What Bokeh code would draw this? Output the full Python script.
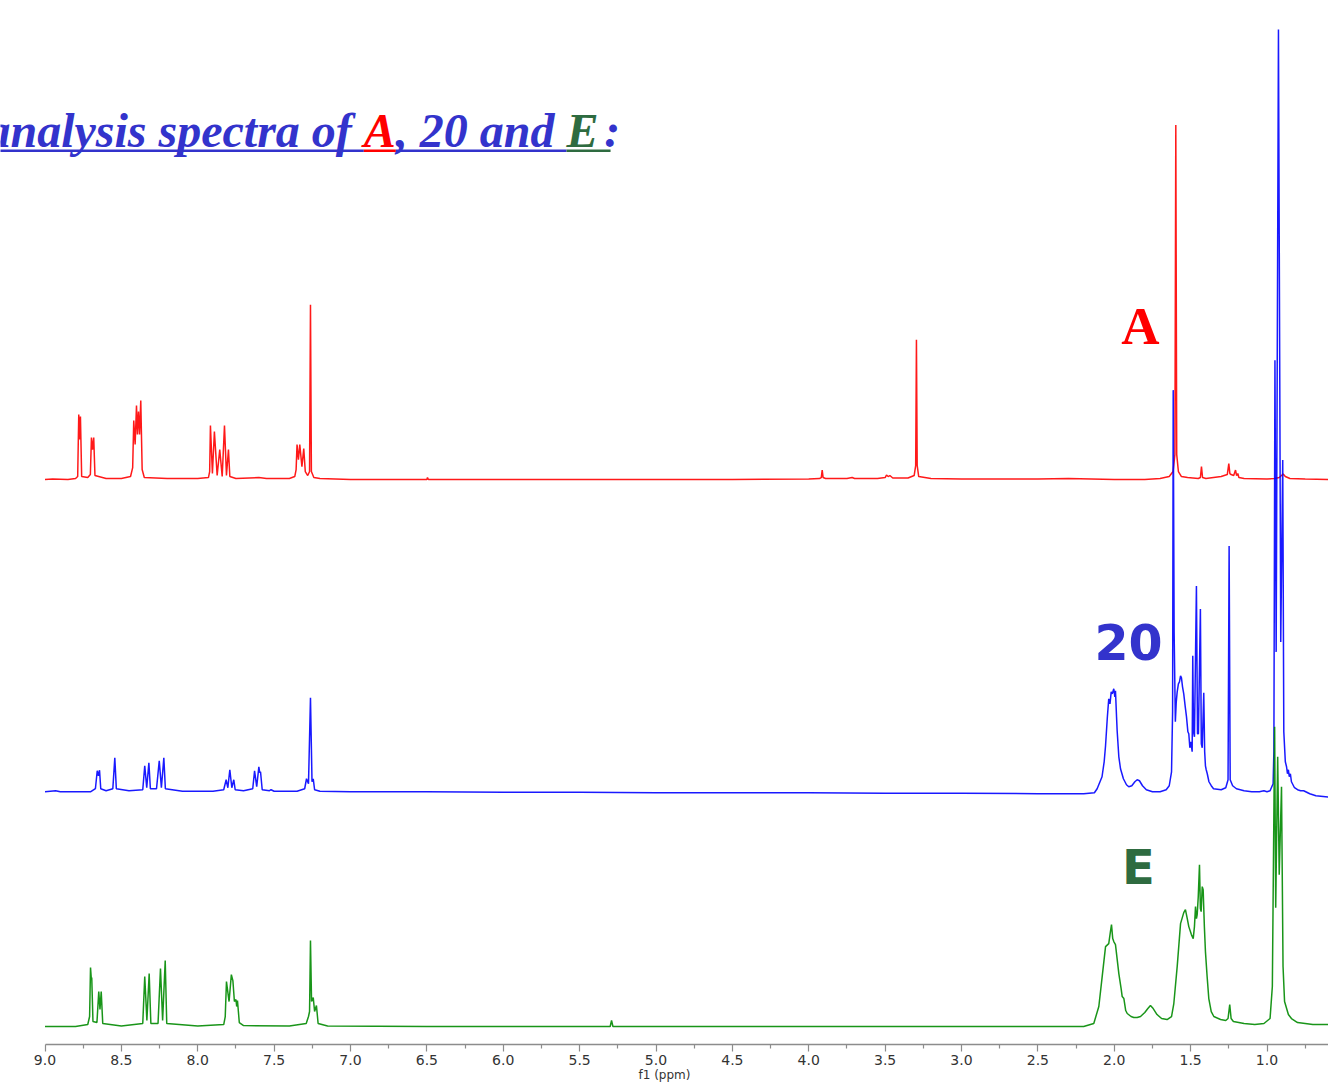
from bokeh.plotting import figure
from bokeh.models import Range1d, FixedTicker, PrintfTickFormatter
from bokeh.core.properties import value
from bokeh.embed import file_html
from bokeh.resources import INLINE

# ---------------- data ----------------
TICKS = [9.0, 8.5, 8.0, 7.5, 7.0, 6.5, 6.0, 5.5, 5.0, 4.5, 4.0, 3.5, 3.0, 2.5, 2.0, 1.5, 1.0]
MINOR_TICKS = [8.75, 8.25, 7.75, 7.25, 6.75, 6.25, 5.75, 5.25, 4.75, 4.25, 3.75, 3.25,
               2.75, 2.25, 1.75, 1.25, 0.75]
AXIS_LABEL = "f1 (ppm)"

TITLE_PARTS = ["analysis spectra of ", "A", ", 20 and ", "E", " :"]
TITLE_COLORS = ["#3333cc", "#ff0000", "#3333cc", "#2e6b40", "#3333cc"]
TRACE_LABELS = ["A", "20", "E"]

# spectrum A (red): (ppm, intensity above its baseline)
SPEC_A = [
    (9.0, 0), (8.95, 0.5), (8.85, 0), (8.80, 1), (8.786, 3), (8.779, 65), (8.773, 40),
    (8.768, 63), (8.760, 3), (8.72, 2), (8.703, 5), (8.696, 42), (8.689, 30), (8.681, 42),
    (8.673, 4), (8.60, 1), (8.50, 1), (8.44, 3), (8.426, 12), (8.419, 59), (8.410, 35),
    (8.401, 74), (8.395, 45), (8.388, 68), (8.381, 45), (8.373, 79), (8.364, 10), (8.35, 2),
    (8.20, 1), (8.00, 1), (7.93, 2), (7.922, 8), (7.917, 54), (7.904, 6), (7.891, 48),
    (7.873, 4), (7.856, 30), (7.840, 3), (7.825, 54), (7.812, 4), (7.799, 30), (7.790, 3),
    (7.75, 1), (7.60, 2), (7.55, 1), (7.40, 1), (7.365, 3), (7.356, 10), (7.350, 35),
    (7.341, 20), (7.332, 35), (7.318, 13), (7.306, 31), (7.296, 8), (7.280, 4), (7.268, 8),
    (7.262, 175), (7.256, 8), (7.24, 2), (7.20, 1), (7.00, 0), (6.80, 0), (6.50, 0),
    (6.496, 2), (6.49, 0), (6.00, 0), (5.50, 0), (5.00, 0), (4.50, 0), (4.00, 0.5),
    (3.93, 1), (3.918, 2), (3.912, 9.5), (3.906, 2), (3.89, 1), (3.75, 1), (3.716, 2),
    (3.70, 1), (3.55, 1), (3.50, 2), (3.491, 4.5), (3.480, 3), (3.469, 4), (3.45, 1.5),
    (3.35, 1.5), (3.31, 4), (3.300, 14), (3.295, 140), (3.290, 14), (3.28, 3), (3.20, 1),
    (3.00, 0.5), (2.50, 0.5), (2.30, 1), (2.00, 0), (1.80, 0), (1.70, 1), (1.64, 3),
    (1.615, 8), (1.603, 25), (1.597, 355), (1.591, 25), (1.58, 8), (1.56, 3), (1.52, 2),
    (1.45, 1), (1.436, 2), (1.429, 13), (1.422, 2), (1.40, 1), (1.30, 3), (1.26, 5),
    (1.250, 16), (1.243, 6), (1.235, 5), (1.218, 4), (1.206, 9.5), (1.199, 4), (1.191, 6),
    (1.184, 2), (1.15, 1), (1.00, 0.5), (0.95, 1), (0.92, 2), (0.894, 5.5), (0.88, 3),
    (0.85, 1), (0.75, 0.5), (0.55, 0),
]

# spectrum 20 (blue)
SPEC_20 = [
    (9.0, 0), (8.93, 1), (8.90, 0), (8.70, 0), (8.67, 3), (8.658, 21), (8.650, 16),
    (8.643, 21.5), (8.635, 3), (8.60, 1), (8.556, 3), (8.543, 34), (8.533, 3), (8.45, 1),
    (8.36, 2), (8.347, 26), (8.334, 4), (8.320, 29), (8.310, 3), (8.27, 3), (8.252, 31),
    (8.238, 4), (8.222, 34), (8.212, 3), (8.10, 0.5), (7.90, 0.5), (7.83, 2), (7.814, 12),
    (7.803, 4), (7.790, 22), (7.777, 4), (7.764, 12), (7.755, 2), (7.70, 1), (7.64, 3),
    (7.628, 21), (7.614, 5), (7.600, 25), (7.594, 19), (7.589, 20), (7.578, 2), (7.53, 1),
    (7.52, 2), (7.50, 0.5), (7.35, 0.5), (7.30, 3), (7.288, 13), (7.275, 8), (7.262, 94),
    (7.252, 10), (7.244, 13), (7.235, 2), (7.20, 0.5), (7.00, 0), (6.50, 0), (6.00, -0.5),
    (5.50, -0.5), (5.00, -1), (4.50, -1), (4.00, -1), (3.50, -1.5), (3.00, -1.5),
    (2.50, -2), (2.20, -2), (2.13, -1), (2.112, 3), (2.08, 15), (2.066, 30), (2.057, 46),
    (2.045, 75), (2.036, 93), (2.028, 88), (2.020, 100), (2.013, 98), (2.003, 103),
    (1.996, 95), (1.992, 101), (1.985, 75), (1.981, 61), (1.970, 35), (1.959, 23),
    (1.94, 13), (1.92, 7), (1.905, 5), (1.885, 6), (1.865, 10), (1.850, 12), (1.835, 11),
    (1.815, 6), (1.79, 2), (1.75, 0), (1.70, 0), (1.66, 2), (1.64, 6), (1.625, 20),
    (1.618, 80), (1.614, 402), (1.608, 160), (1.600, 70), (1.594, 90), (1.588, 100),
    (1.580, 108), (1.573, 110), (1.566, 116), (1.560, 114), (1.553, 105), (1.545, 98),
    (1.536, 86), (1.527, 75), (1.518, 60), (1.512, 58), (1.505, 44), (1.498, 50),
    (1.490, 40), (1.486, 136), (1.481, 60), (1.475, 55), (1.462, 206), (1.455, 58),
    (1.449, 58), (1.436, 183), (1.430, 48), (1.424, 44), (1.414, 99), (1.408, 40),
    (1.403, 26), (1.398, 22), (1.391, 18), (1.38, 10), (1.365, 6), (1.35, 3), (1.30, 2),
    (1.27, 4), (1.255, 12), (1.248, 246), (1.241, 12), (1.225, 6), (1.20, 3), (1.15, 1),
    (1.10, 0), (1.05, 0), (1.02, 1), (1.00, 0), (0.98, 1), (0.96, 8), (0.955, 40),
    (0.948, 432), (0.940, 140), (0.925, 763), (0.910, 150), (0.897, 332), (0.890, 60),
    (0.880, 30), (0.872, 25), (0.866, 18), (0.860, 22), (0.854, 15), (0.847, 18),
    (0.840, 10), (0.82, 4), (0.80, 2), (0.78, 1), (0.76, 1), (0.72, -2), (0.68, -4),
    (0.55, -6),
]

# spectrum E (green)
SPEC_E = [
    (9.0, 0), (8.80, 0), (8.72, 2), (8.708, 10), (8.702, 59), (8.697, 48), (8.694, 49),
    (8.686, 5), (8.660, 4), (8.648, 35), (8.640, 17), (8.632, 35), (8.622, 3), (8.50, 0.5),
    (8.36, 3), (8.347, 50), (8.333, 6), (8.318, 53), (8.307, 3), (8.26, 3), (8.244, 58),
    (8.230, 6), (8.213, 66), (8.203, 3), (8.00, 0.5), (7.83, 2), (7.820, 10), (7.812, 45),
    (7.795, 25), (7.780, 52), (7.770, 46), (7.760, 25), (7.750, 27), (7.745, 20),
    (7.740, 26), (7.728, 4), (7.70, 1), (7.40, 0.5), (7.29, 3), (7.275, 10), (7.268, 15),
    (7.262, 86), (7.255, 25), (7.244, 29), (7.235, 15), (7.223, 21), (7.212, 3),
    (7.15, 0.5), (6.50, 0), (5.30, 0), (5.291, 6), (5.282, 0), (4.00, 0), (3.00, 0),
    (2.50, 0), (2.20, 0), (2.134, 3), (2.101, 20), (2.079, 50), (2.057, 80), (2.036, 83),
    (2.025, 95), (2.018, 102), (2.010, 88), (2.003, 85), (1.992, 82), (1.970, 53),
    (1.955, 38), (1.948, 30), (1.937, 28), (1.925, 16), (1.915, 13), (1.89, 10),
    (1.872, 9), (1.85, 9), (1.828, 10), (1.80, 14), (1.78, 18), (1.763, 21), (1.745, 18),
    (1.72, 12), (1.69, 8), (1.654, 7), (1.635, 9), (1.625, 10), (1.610, 23), (1.588, 60),
    (1.566, 103), (1.545, 114), (1.534, 117), (1.522, 108), (1.512, 100), (1.495, 92),
    (1.483, 88), (1.475, 100), (1.468, 120), (1.462, 108), (1.457, 112), (1.450, 130),
    (1.442, 162), (1.436, 118), (1.431, 115), (1.424, 140), (1.418, 137), (1.410, 100),
    (1.403, 75), (1.392, 50), (1.381, 28), (1.365, 15), (1.348, 10), (1.304, 7),
    (1.27, 6), (1.255, 8), (1.244, 22), (1.235, 8), (1.22, 5), (1.15, 3), (1.08, 2),
    (1.02, 3), (0.98, 8), (0.965, 40), (0.950, 300), (0.943, 119), (0.930, 270),
    (0.920, 152), (0.905, 240), (0.895, 60), (0.885, 25), (0.86, 12), (0.84, 8),
    (0.80, 4), (0.75, 3), (0.70, 2), (0.55, 2),
]

# ---------------- layout helpers ----------------
W, H = 1328, 1084
PX_PER_PPM = 152.75
X_9PPM = 44.5            # pixel x of the 9.0 ppm tick
AXIS_Y = 1045            # pixel y of the axis line
BOTTOM = H - AXIS_Y
FRAME_H = AXIS_Y
BASE_SHIFT = 0.37        # svg alphabetic-baseline correction (em)


def px2ppm(px):
    return 9.0 - (px - X_9PPM) / PX_PER_PPM


def py2y(py):
    return AXIS_Y - py


def base_y(py, fs):
    return py2y(py - BASE_SHIFT * fs)


BASE_A = py2y(479.5)
BASE_20 = py2y(792)
BASE_E = py2y(1027)

p = figure(width=W, height=H, output_backend="svg", toolbar_location=None,
           x_range=Range1d(px2ppm(0), px2ppm(W)),
           y_range=Range1d(0, FRAME_H),
           y_axis_location=None, tools="")
p.min_border_left = 0
p.min_border_right = 0
p.min_border_top = 0
p.min_border_bottom = BOTTOM
p.outline_line_color = None
p.xgrid.visible = False
p.ygrid.visible = False
p.background_fill_color = "white"
p.border_fill_color = "white"

ax = p.xaxis[0]
ax.ticker = FixedTicker(ticks=TICKS, minor_ticks=MINOR_TICKS)
ax.formatter = PrintfTickFormatter(format="%.1f")
ax.bounds = (0.5, 9.0)
ax.axis_line_color = "#8c8c8c"
ax.axis_line_width = 1.5
ax.major_tick_line_color = "#8c8c8c"
ax.major_tick_line_width = 1.2
ax.minor_tick_line_color = "#8c8c8c"
ax.minor_tick_line_width = 1.2
ax.major_tick_in = 0
ax.major_tick_out = 7
ax.minor_tick_in = 0
ax.minor_tick_out = 4
ax.major_label_standoff = 3
ax.major_label_text_font = "DejaVu Sans"
ax.major_label_text_font_size = "14px"
ax.major_label_text_color = "#333333"
ax.axis_label = AXIS_LABEL
ax.axis_label_standoff = 0
ax.axis_label_text_font = "DejaVu Sans"
ax.axis_label_text_font_size = "12px"
ax.axis_label_text_font_style = "normal"
ax.axis_label_text_color = "#333333"

# spectra
for spec, base, color in ((SPEC_A, BASE_A, "#ff0000"),
                          (SPEC_20, BASE_20, "#0000ff"),
                          (SPEC_E, BASE_E, "#008a00")):
    xs = [a for a, b in spec]
    ys = [b + base for a, b in spec]
    p.line(xs, ys, line_color=color, line_width=1.5, line_alpha=0.9)

# trace labels
p.text(x=[px2ppm(1140)], y=[base_y(345, 53)], text=[TRACE_LABELS[0]],
       text_font=value("Liberation Serif"), text_font_style="bold",
       text_font_size="53px", text_color="#ff0000",
       text_align="center", text_baseline="alphabetic")
p.text(x=[px2ppm(1128)], y=[base_y(660, 49)], text=[TRACE_LABELS[1]],
       text_font=value("DejaVu Sans"), text_font_style="bold",
       text_font_size="49px", text_color="#3333cc",
       text_align="center", text_baseline="alphabetic")
p.text(x=[px2ppm(1138)], y=[base_y(885, 48)], text=[TRACE_LABELS[2]],
       text_font=value("DejaVu Sans"), text_font_style="bold",
       text_font_size="48px", text_color="#2e6b40",
       text_align="center", text_baseline="alphabetic")

# title with coloured underline (Times bold italic advance widths, em units)
EM = {"a": 0.5, "n": 0.556, "l": 0.278, "y": 0.444, "s": 0.389, "i": 0.278,
      "p": 0.5, "e": 0.444, "c": 0.444, "t": 0.278, "r": 0.389, "o": 0.5,
      "f": 0.333, " ": 0.25, "A": 0.667, ",": 0.25, "2": 0.5, "0": 0.5,
      "d": 0.5, "E": 0.667, ":": 0.333}
FS = 48
x_cur = -14.0
TITLE_BASE = 148
UL_Y = 150.5
for i, (part, col) in enumerate(zip(TITLE_PARTS, TITLE_COLORS)):
    w = sum(EM.get(c, 0.5) for c in part) * FS
    x_draw = x_cur
    if i == len(TITLE_PARTS) - 1:
        x_draw = x_cur + 0.12 * FS   # the space before the colon is wider in the source
    p.text(x=[px2ppm(x_draw)], y=[base_y(TITLE_BASE, FS)], text=[part],
           text_font=value("Liberation Serif"), text_font_style="bold italic",
           text_font_size=f"{FS}px", text_color=col,
           text_align="left", text_baseline="alphabetic")
    if i < len(TITLE_PARTS) - 1:
        x_end = x_cur + w
        if i == 3:
            x_end += EM[" "] * FS
        p.segment(x0=[px2ppm(x_cur)], y0=[py2y(UL_Y)], x1=[px2ppm(x_end)], y1=[py2y(UL_Y)],
                  line_color=col, line_width=2.5)
    x_cur += w

open("out.html", "w").write(file_html(p, INLINE))
